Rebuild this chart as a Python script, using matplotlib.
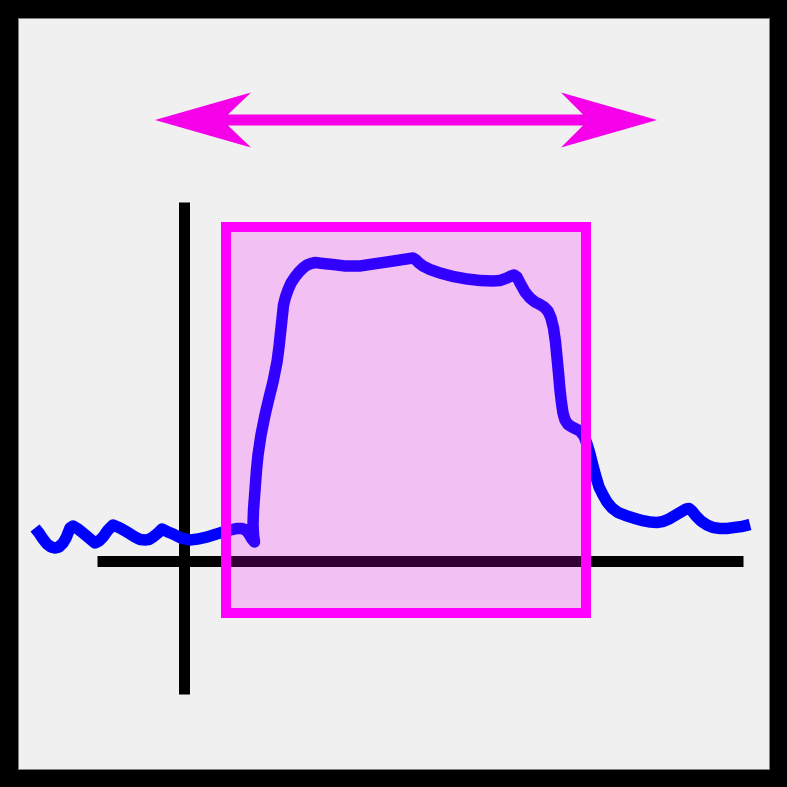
import matplotlib
matplotlib.use("Agg")
import matplotlib.pyplot as plt
from matplotlib.patches import Rectangle, Polygon

# Canvas in pixel units (y downward)
SIZE = 787
frame_inner = (18, 18, 751, 751)          # x, y, w, h of light panel

# Axes of the drawn chart
x_axis = ([97, 743], [561, 561])
y_axis = ([183.5, 183.5], [202, 694])

# Highlight rectangle (x0, y0, x1, y1)
highlight = (226, 227, 586, 612.5)

# Double-headed arrow outline
arrow_x = [155, 251, 228, 583, 561, 657, 561, 583, 228, 251]
arrow_y = [120, 92.5, 114.5, 114.5, 92.5, 120, 147.5, 125.5, 125.5, 147.5]

# Signal curve
curve_x = [35, 39, 43, 47, 51, 55, 59, 63, 66, 68, 70, 73, 78, 83, 89, 95, 99, 103, 108,
           113, 120, 127, 135, 140, 145, 149, 153, 158, 162, 168, 173, 181, 190, 198, 207,
           215, 223, 230, 237, 242, 246, 249, 252, 254.5, 253.5, 253, 253.5, 255, 256.5,
           258, 261, 265, 269, 273, 277, 279, 280.5, 282, 283.5, 285.5, 288, 291, 295,
           299, 303, 307, 311, 315, 323, 333, 345, 360, 373, 387, 400, 413, 416, 419, 423,
           430, 440, 453, 467, 480, 493, 500, 507, 511, 514, 517, 520, 525, 530, 535, 540,
           544, 548, 551, 553.5, 555.5, 557, 558.5, 560, 561.5, 563, 565, 568, 572, 576,
           580, 584, 587, 590, 593, 596, 599, 603, 607, 612, 618, 627, 635, 642, 650, 657,
           663, 669, 675, 681, 686, 689, 692, 696, 701, 707, 713, 720, 727, 734, 742, 750]
curve_y = [528, 533, 539, 544, 547, 548, 547, 543, 538, 533, 528, 526, 529, 533, 538, 543,
           541, 537, 530, 525, 528, 532, 537, 539.5, 540, 539.5, 537, 533, 529, 532, 534,
           538, 540, 539, 537, 534.5, 532, 530, 528.5, 528.5, 530, 534, 539, 542, 535,
           525, 510, 490, 470, 455, 435, 415, 398, 382, 362, 347, 333, 318, 305, 297,
           290, 283, 277, 272, 268, 265, 263.5, 262.5, 263.5, 264.5, 266, 266, 264, 262,
           260, 258, 260, 263, 266, 269.5, 273, 276.5, 279, 280.5, 281, 280.5, 278, 276,
           275, 277, 283, 292, 298, 302, 304.5, 307, 311, 318, 328, 342, 357, 373, 390,
           403, 413, 420, 424.5, 427, 429, 431, 436, 444, 454, 466, 477, 487, 495, 502,
           508, 512.5, 516, 518.5, 520.5, 522, 522.5, 521.5, 519, 515.5, 512, 509, 508.5,
           511, 516, 521, 525, 527.5, 528.5, 528.5, 527.5, 526.5, 524.5]

fig = plt.figure(figsize=(SIZE / 100, SIZE / 100), dpi=100)
fig.patch.set_facecolor("black")
ax = fig.add_axes([0, 0, 1, 1])
ax.set_xlim(0, SIZE)
ax.set_ylim(SIZE, 0)
ax.axis("off")

px = 0.72  # points per pixel at 100 dpi

ax.add_patch(Rectangle((0, 0), SIZE, SIZE, facecolor="black", edgecolor="none", zorder=0))
ax.add_patch(Rectangle(frame_inner[:2], frame_inner[2], frame_inner[3],
                       facecolor="#f0f0f0", edgecolor="#808080", linewidth=0.7, zorder=1))

for xs, ys in (x_axis, y_axis):
    ax.plot(xs, ys, color="black", linewidth=11 * px, solid_capstyle="butt", zorder=2)

ax.plot(curve_x, curve_y, color="#0000ff", linewidth=11.5 * px,
        solid_capstyle="butt", solid_joinstyle="round", zorder=3)

x0, y0, x1, y1 = highlight
ax.add_patch(Rectangle((x0, y0), x1 - x0, y1 - y0, facecolor="#ff00ff", alpha=0.2,
                       edgecolor="none", zorder=4))
ax.add_patch(Rectangle((x0, y0), x1 - x0, y1 - y0, facecolor="none",
                       edgecolor="#ff00ff", linewidth=10 * px, joinstyle="miter", zorder=5))

ax.add_patch(Polygon(list(zip(arrow_x, arrow_y)), closed=True, facecolor="#f500e8",
                     edgecolor="none", zorder=6))

fig.savefig("out.png", dpi=100, facecolor="black")
